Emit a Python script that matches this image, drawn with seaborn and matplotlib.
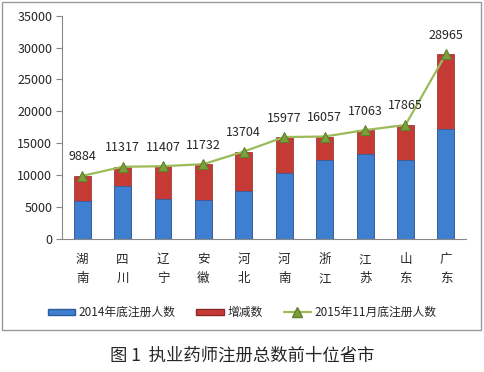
import numpy as np
import pandas as pd
import matplotlib
matplotlib.use("Agg")
import matplotlib.pyplot as plt
import seaborn as sns
from matplotlib.patches import Patch, Rectangle
from matplotlib.lines import Line2D

provinces = ["湖南", "四川", "辽宁", "安徽", "河北", "河南", "浙江", "江苏", "山东", "广东"]
base_2014 = [6000, 8360, 6270, 6110, 7580, 10400, 12380, 13320, 12380, 17190]
total_2015 = [9884, 11317, 11407, 11732, 13704, 15977, 16057, 17063, 17865, 28965]
yticks = [0, 5000, 10000, 15000, 20000, 25000, 30000, 35000]

sns.set_style("white")
plt.rcParams["font.family"] = ["Noto Sans CJK SC", "DejaVu Sans"]

df = pd.DataFrame({"省市": provinces, "base": base_2014, "total": total_2015})

blue, blue_edge = "#3f7fcf", "#2a5c9e"
red, red_edge = "#c63a36", "#8e2826"
green, green_mk, green_edge = "#9bbb59", "#7aa03a", "#5e7f2e"

fig = plt.figure(figsize=(4.84, 3.72), dpi=100)
ax = fig.add_axes([0.128, 0.3575, 0.835, 0.6005])

# red = total (stack top), blue = 2014 base drawn over it
sns.barplot(data=df, x="省市", y="total", color=red, saturation=1,
            width=0.42, edgecolor=red_edge, linewidth=0.5, ax=ax)
sns.barplot(data=df, x="省市", y="base", color=blue, saturation=1,
            width=0.42, edgecolor=blue_edge, linewidth=0.5, ax=ax)

xs = np.arange(len(provinces))
sns.lineplot(x=xs, y=total_2015, color=green, linewidth=1.6, marker="^",
             markersize=7, markerfacecolor=green_mk, markeredgecolor=green_edge,
             ax=ax)

for x, v in zip(xs, total_2015):
    ax.annotate(str(v), (x, v), xytext=(0, 9), textcoords="offset points",
                ha="center", va="bottom", fontsize=9)

ax.set_xlim(-0.5, len(provinces) - 0.5)
ax.set_ylim(0, 35000)
ax.set_yticks(yticks)
ax.set_yticklabels([str(t) for t in yticks], fontsize=9)
ax.set_xticks(xs)
ax.set_xticklabels(["\n".join(p) for p in provinces], fontsize=9, linespacing=1.6)
ax.tick_params(axis="x", which="major", length=0, pad=10)
ax.set_xticks(np.arange(-0.5, len(provinces)), minor=True)
ax.tick_params(axis="x", which="minor", length=5, color="#888888", direction="out")
ax.tick_params(axis="y", length=4, color="#888888", direction="out", left=True, pad=3)
ax.set_xlabel("")
ax.set_ylabel("")
for s in ["top", "right"]:
    ax.spines[s].set_visible(False)
for s in ["left", "bottom"]:
    ax.spines[s].set_color("#888888")
    ax.spines[s].set_linewidth(0.8)

handles = [
    Patch(facecolor=blue, edgecolor=blue_edge),
    Patch(facecolor=red, edgecolor=red_edge),
    Line2D([0], [0], color=green, linewidth=1.6, marker="^", markersize=7,
           markerfacecolor=green_mk, markeredgecolor=green_edge),
]
fig.legend(handles, ["2014年底注册人数", "增减数", "2015年11月底注册人数"],
           loc="center", bbox_to_anchor=(0.5, 0.16), ncol=3, frameon=False,
           fontsize=8.5, handlelength=2.3, handleheight=0.45,
           columnspacing=1.8, handletextpad=0.3)

fig.patches.append(Rectangle((0.004, 0.112), 0.99, 0.883, transform=fig.transFigure,
                             fill=False, edgecolor="#999999", linewidth=1))
fig.text(0.5, 0.043, "图 1  执业药师注册总数前十位省市", ha="center", va="center",
         fontsize=12.5)

fig.savefig("out.png", dpi=100)
